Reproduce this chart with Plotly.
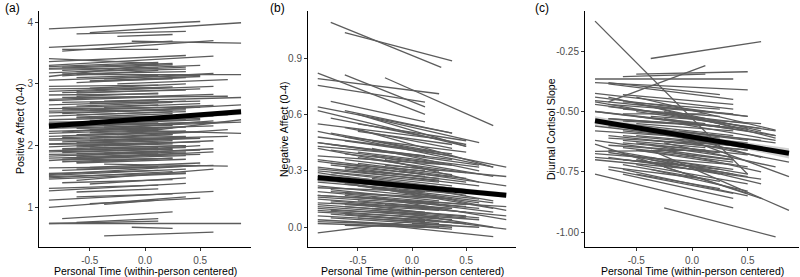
import plotly.graph_objects as go

# ---------------- Panel (a): Positive Affect ----------------
a_x0 = [-0.87,-0.50,-0.62,-0.25,-0.87,-0.75,-0.12,-0.75,-0.87,-0.87,-0.87,-0.87,-0.87,-0.75,-0.87,-0.62,-0.75,-0.87,-0.37,-0.50,
        -0.62,-0.25,-0.87,-0.50,-0.87,-0.62,-0.87,-0.75,-0.87,-0.37,-0.75,-0.87,-0.62,-0.87,-0.50,-0.87,-0.25,-0.75,-0.87,-0.62,
        -0.87,-0.50,-0.87,-0.37,-0.87,-0.12,-0.75,-0.87,-0.62,-0.87,-0.50,-0.87,-0.75,-0.87,-0.62,-0.87,-0.50,-0.87,-0.75,-0.87,
        -0.62,-0.87,-0.75,-0.87,-0.62,-0.37,-0.50,-0.75,-0.87,-0.87,-0.87,-0.87,-0.87,-0.62,-0.75,-0.50,-0.87,-0.87,-0.62,-0.87,
        -0.62,-0.50,-0.87,-0.37,-0.75,-0.87,-0.87,-0.62,-0.12,-0.37,-0.75,-0.62,-0.87,-0.75,-0.50,-0.62,-0.75,-0.50,-0.62,-0.75,
        -0.37,-0.62,-0.75,-0.50,-0.62,-0.75,-0.62,-0.25,-0.37,-0.62,
        -0.87,-0.75,-0.62,-0.87,-0.50,-0.75,-0.87,-0.62,-0.50,-0.87,-0.75,-0.62,-0.87,-0.50,-0.75,-0.87,-0.62,-0.87,-0.50,-0.75,
        -0.87,-0.62,-0.87,-0.50,-0.75,-0.62,-0.87,-0.75,-0.62,-0.87,-0.50,-0.37,-0.25,-0.37,-0.12,-0.25,-0.37,-0.87,-0.62,-0.87]
a_x1 = [0.50,0.87,0.37,0.25,0.25,0.62,0.87,0.12,0.12,0.37,0.62,0.12,0.25,0.50,0.37,0.87,0.12,0.12,0.62,0.50,
        0.37,0.75,0.12,0.37,0.25,0.50,0.12,0.75,0.62,0.87,0.12,0.37,0.25,0.50,0.62,0.12,0.87,0.37,0.25,0.75,
        0.12,0.50,0.37,0.75,0.25,0.87,0.62,0.12,0.37,0.50,0.25,0.12,0.37,0.25,0.50,0.12,0.37,0.37,0.25,0.12,
        0.62,0.50,0.37,0.12,0.25,0.75,0.50,0.62,0.12,0.37,0.25,0.50,0.37,0.62,0.25,0.37,0.12,0.37,0.12,0.62,
        0.25,0.50,0.37,0.12,0.25,0.12,0.87,0.12,0.25,0.62,0.12,0.37,0.12,0.25,0.62,0.12,0.37,0.37,0.25,0.12,
        0.50,0.37,0.25,0.12,0.62,0.25,0.37,0.87,0.75,0.50,
        0.12,0.37,0.12,0.25,0.50,0.12,0.37,0.25,0.37,0.12,0.50,0.37,0.25,0.12,0.25,0.37,0.50,0.12,0.25,0.37,
        0.25,0.12,0.37,0.62,0.12,0.37,0.12,0.37,0.12,0.50,0.25,0.50,0.62,0.87,0.75,0.50,0.62,0.12,0.25,0.37]
a_y0 = [3.89,3.83,3.81,3.77,3.59,3.53,3.69,3.56,3.41,3.36,3.30,3.28,3.25,3.22,3.18,3.15,3.13,3.12,3.08,3.05,
        3.02,3.00,2.96,2.93,2.88,2.85,2.82,2.78,2.75,2.72,2.70,2.66,2.64,2.60,2.58,2.56,2.55,2.52,2.48,2.45,
        2.42,2.40,2.36,2.34,2.28,2.25,2.22,2.20,2.18,2.15,2.12,2.09,2.06,2.03,2.01,1.98,1.96,1.92,1.89,1.86,
        1.84,1.80,1.78,1.76,1.73,1.70,1.65,1.60,1.55,1.52,1.48,1.53,1.46,1.44,1.40,1.38,1.31,1.27,1.25,1.12,
        1.17,1.06,1.00,1.05,0.82,0.74,0.74,0.76,0.68,0.54,2.62,2.50,2.38,2.32,2.26,2.24,2.16,2.08,1.98,1.93,
        1.88,1.82,1.74,2.70,2.88,3.27,3.20,2.18,2.10,2.34,
        2.92,2.86,2.80,2.73,2.68,2.58,2.53,2.46,2.44,2.34,2.30,2.28,2.23,2.21,2.13,2.11,2.05,2.02,2.00,1.95,
        1.90,1.87,1.83,1.80,1.77,1.72,3.24,3.16,3.10,3.06,3.04,2.62,2.40,2.30,2.16,1.92,2.00,1.64,1.62,1.50]
a_y1 = [4.01,3.99,3.85,3.80,3.69,3.70,3.66,3.56,3.33,3.46,3.45,3.35,3.31,3.30,3.27,3.15,3.22,3.32,3.17,3.12,
        3.10,3.07,2.98,3.00,2.95,2.92,2.84,2.80,2.83,2.78,2.73,2.72,2.70,2.62,2.65,2.58,2.66,2.60,2.55,2.50,
        2.46,2.44,2.42,2.38,2.33,2.20,2.40,2.26,2.24,2.22,2.18,2.10,2.14,2.08,2.06,2.05,2.00,1.97,1.95,1.88,
        1.95,1.86,1.84,1.86,1.80,1.67,1.72,1.68,1.60,1.62,1.58,1.68,1.55,1.62,1.45,1.48,1.36,1.39,1.30,1.26,
        1.22,1.15,1.17,1.12,0.93,0.78,0.74,0.82,0.66,0.60,2.66,2.55,2.40,2.36,2.32,2.27,2.22,2.12,2.03,1.97,
        1.93,1.88,1.80,2.74,2.96,3.33,3.24,2.42,2.15,2.42,
        2.94,2.90,2.85,2.80,2.72,2.62,2.58,2.52,2.48,2.37,2.38,2.30,2.29,2.24,2.18,2.15,2.12,2.04,2.05,2.00,
        1.94,1.91,1.90,1.90,1.79,1.78,3.26,3.20,3.14,3.14,3.08,2.68,2.48,2.38,2.26,2.00,2.08,1.66,1.66,1.56]
a_fix_x = [-0.87, 0.87]
a_fix_y = [2.32, 2.55]
a_band_x = [-0.87, -0.4, 0.0, 0.4, 0.87]
a_band_lo = [2.28, 2.35, 2.39, 2.44, 2.50]
a_band_hi = [2.36, 2.40, 2.43, 2.49, 2.60]

# ---------------- Panel (b): Negative Affect ----------------
b_x0 = [-0.75,-0.62,-0.87,-0.87,-0.62,-0.87,-0.25,-0.87,-0.75,-0.87,-0.87,-0.62,-0.50,-0.37,
        -0.87,-0.62,-0.75,-0.87,-0.50,-0.87,-0.62,-0.37,-0.87,-0.75,-0.50,-0.87,-0.25,-0.62,-0.87,-0.75,-0.12,
        -0.87,-0.50,-0.87,-0.62,-0.87,-0.75,-0.37,-0.87,-0.62,-0.87,-0.50,-0.87,-0.75,-0.25,-0.87,-0.62,-0.87,-0.50,-0.87,-0.75,-0.37,
        -0.87,-0.87,-0.62,-0.75,-0.87,-0.50,-0.87,-0.87,-0.25,-0.12,0.00,-0.62,
        -0.87,-0.75,-0.87,-0.62,-0.75,-0.50,-0.87,-0.37,-0.50,
        -0.87,-0.75,-0.62,-0.50,-0.87,-0.75,-0.62,-0.87,-0.50,-0.75,-0.87,-0.62,-0.50,-0.87,-0.75,-0.62,-0.87,-0.50,-0.75,-0.87,
        -0.62,-0.37,-0.87,-0.75,-0.50,-0.87,-0.62,-0.37,-0.25,-0.12,-0.25,-0.37,-0.12,-0.37,-0.25,-0.62,-0.75,-0.87,-0.50,-0.87]
b_x1 = [0.27,0.37,0.12,0.25,0.12,0.12,0.75,0.37,0.12,0.50,0.75,0.37,0.50,0.62,
        0.12,0.50,0.37,0.25,0.62,0.37,0.25,0.75,0.12,0.50,0.37,0.62,0.87,0.12,0.25,0.37,0.87,
        0.12,0.50,0.37,0.62,0.12,0.25,0.75,0.50,0.37,0.25,0.62,0.12,0.50,0.87,0.37,0.25,0.12,0.37,0.62,0.12,0.62,
        0.25,0.12,0.50,0.37,0.37,0.25,0.12,0.12,0.75,0.87,0.62,0.12,
        0.50,0.75,0.87,0.37,0.25,0.50,0.37,0.87,0.75,
        0.12,0.25,0.37,0.50,0.37,0.12,0.50,0.25,0.25,0.37,0.12,0.25,0.62,0.37,0.12,0.50,0.25,0.37,0.25,0.50,
        0.12,0.50,0.37,0.50,0.12,0.25,0.37,0.62,0.75,0.87,0.87,0.75,0.75,0.62,0.62,0.37,0.50,0.25,0.37,0.62]
b_y0 = [1.09,1.035,0.82,0.79,0.81,0.755,0.795,0.64,0.67,0.62,0.51,0.62,0.60,0.58,
        0.45,0.48,0.44,0.42,0.40,0.38,0.36,0.38,0.35,0.33,0.34,0.32,0.33,0.31,0.30,0.29,0.30,
        0.27,0.26,0.24,0.23,0.21,0.20,0.21,0.19,0.18,0.17,0.16,0.15,0.14,0.15,0.13,0.12,0.11,0.12,0.10,0.09,0.10,
        0.08,0.06,0.07,0.05,0.04,0.05,0.03,-0.03,0.01,0.06,0.02,0.01,
        0.29,0.25,0.17,0.53,0.50,0.55,0.48,0.46,0.52,
        0.43,0.41,0.39,0.37,0.36,0.34,0.32,0.31,0.30,0.28,0.25,0.24,0.22,0.22,0.19,0.17,0.16,0.14,0.13,0.12,
        0.11,0.09,0.09,0.07,0.06,0.02,0.03,0.26,0.24,0.20,0.12,0.16,0.08,0.42,0.36,0.46,0.58,0.55,0.51,0.45]
b_y1 = [0.85,0.885,0.60,0.71,0.64,0.665,0.54,0.50,0.56,0.43,0.32,0.50,0.43,0.45,
        0.38,0.40,0.36,0.30,0.32,0.33,0.30,0.27,0.28,0.26,0.28,0.22,0.27,0.27,0.24,0.22,0.22,
        0.22,0.20,0.18,0.15,0.19,0.14,0.13,0.12,0.15,0.13,0.10,0.11,0.08,0.04,0.10,0.09,0.07,0.06,0.04,0.07,0.05,
        0.05,0.03,0.02,0.01,0.00,0.02,0.01,0.04,-0.05,-0.01,0.00,0.00,
        0.17,0.10,0.11,0.42,0.40,0.46,0.39,0.32,0.32,
        0.38,0.34,0.33,0.29,0.27,0.30,0.24,0.25,0.26,0.20,0.21,0.19,0.13,0.15,0.16,0.11,0.12,0.10,0.10,0.06,
        0.08,0.05,0.04,0.02,0.04,0.00,-0.01,0.19,0.14,0.09,0.06,0.08,0.00,0.30,0.24,0.38,0.44,0.47,0.44,0.33]
b_fix_x = [-0.87, 0.87]
b_fix_y = [0.265, 0.17]
b_band_x = [-0.87, -0.4, 0.0, 0.4, 0.87]
b_band_lo = [0.245, 0.228, 0.212, 0.192, 0.155]
b_band_hi = [0.285, 0.258, 0.232, 0.212, 0.185]

# ---------------- Panel (c): Diurnal Cortisol Slope ----------------
c_x0 = [-0.87,-0.37,-0.75,-0.50,-0.87,-0.62,-0.87,-0.75,-0.75,-0.87,-0.87,-0.87,-0.62,-0.87,-0.75,-0.50,-0.87,-0.62,-0.37,-0.25,
        -0.62,-0.87,-0.12,-0.75,-0.50,-0.75,-0.37,-0.62,-0.87,-0.50,-0.75,-0.25,-0.87,-0.62,-0.37,-0.50,-0.87,-0.87,-0.75,-0.62,
        -0.25,-0.50,-0.12,-0.75,-0.62,-0.87,-0.37,-0.50,-0.75,-0.62,-0.87,-0.37,-0.25,-0.62,-0.37,-0.50,-0.12,-0.87,-0.62,-0.75,
        -0.37,-0.50,-0.25,-0.62,-0.75,-0.50,
        -0.75,-0.62,-0.87,-0.50,-0.75,-0.62,-0.87,-0.50,-0.37,-0.75,-0.62,-0.87,-0.50,-0.37,-0.75,-0.62,-0.87,-0.50,-0.25,-0.12,
        -0.25,-0.62,-0.75,-0.37,-0.12]
c_x1 = [0.50,0.62,0.12,0.50,0.37,0.12,0.50,0.25,0.37,0.37,0.50,0.12,0.37,0.25,0.62,0.50,0.12,0.25,0.75,0.75,
        0.12,0.37,0.75,0.50,0.37,0.25,0.62,0.50,0.12,0.25,0.37,0.87,0.62,0.12,0.50,0.50,0.12,0.37,0.25,0.37,
        0.75,0.37,0.87,0.62,0.25,0.25,0.37,0.50,0.12,0.50,0.37,0.87,0.75,0.62,0.62,0.75,0.75,0.50,0.25,0.50,
        0.62,0.25,0.50,0.37,0.50,0.62,
        0.37,0.25,0.12,0.50,0.25,0.37,0.25,0.25,0.62,0.50,0.12,0.37,0.50,0.37,0.37,0.50,0.12,0.25,0.62,0.75,
        0.75,0.25,0.37,0.50,0.62]
c_y0 = [-0.125,-0.28,-0.46,-0.345,-0.365,-0.355,-0.38,-0.38,-0.385,-0.425,-0.44,-0.455,-0.43,-0.46,-0.44,-0.47,-0.47,-0.49,-0.48,-0.50,
        -0.51,-0.50,-0.52,-0.53,-0.55,-0.56,-0.57,-0.58,-0.58,-0.60,-0.61,-0.58,-0.635,-0.62,-0.62,-0.63,-0.665,-0.675,-0.64,-0.65,
        -0.63,-0.66,-0.62,-0.69,-0.70,-0.70,-0.70,-0.72,-0.73,-0.74,-0.76,-0.66,-0.90,-0.60,-0.52,-0.44,-0.58,-0.54,-0.54,-0.66,
        -0.69,-0.76,-0.73,-0.76,-0.48,-0.50,
        -0.47,-0.46,-0.50,-0.52,-0.53,-0.55,-0.56,-0.57,-0.59,-0.60,-0.63,-0.62,-0.66,-0.64,-0.67,-0.68,-0.69,-0.70,-0.66,-0.55,
        -0.53,-0.72,-0.74,-0.74,-0.60]
c_y1 = [-0.76,-0.21,-0.31,-0.335,-0.365,-0.345,-0.41,-0.43,-0.45,-0.49,-0.52,-0.50,-0.47,-0.55,-0.58,-0.52,-0.53,-0.52,-0.61,-0.60,
        -0.51,-0.57,-0.58,-0.57,-0.58,-0.60,-0.62,-0.63,-0.61,-0.63,-0.64,-0.77,-0.86,-0.65,-0.66,-0.68,-0.66,-0.72,-0.67,-0.70,
        -0.73,-0.71,-0.71,-0.78,-0.74,-0.75,-0.76,-0.80,-0.78,-0.85,-0.90,-0.91,-1.02,-0.65,-0.55,-0.577,-0.63,-0.62,-0.56,-0.76,
        -0.80,-0.82,-0.84,-0.86,-0.55,-0.57,
        -0.51,-0.49,-0.55,-0.58,-0.56,-0.60,-0.62,-0.61,-0.66,-0.66,-0.66,-0.70,-0.73,-0.69,-0.74,-0.77,-0.73,-0.76,-0.75,-0.62,
        -0.60,-0.79,-0.84,-0.83,-0.69]
c_fix_x = [-0.87, 0.87]
c_fix_y = [-0.538, -0.673]
c_band_x = [-0.87, -0.4, 0.0, 0.4, 0.87]
c_band_lo = [-0.555, -0.585, -0.612, -0.648, -0.695]
c_band_hi = [-0.520, -0.560, -0.592, -0.622, -0.652]

titles = ["(a)", "(b)", "(c)"]
y_titles = ["Positive Affect (0-4)", "Negative Affect (0-4)", "Diurnal Cortisol Slope"]
x_title = "Personal Time (within-person centered)"
x_ticks = [-0.5, 0.0, 0.5]
a_yticks = [1, 2, 3, 4]
b_yticks = [0.0, 0.3, 0.6, 0.9]
c_yticks = [-1.00, -0.75, -0.50, -0.25]

fig = go.Figure()

def seg(x0, x1, y0, y1):
    xs, ys = [], []
    for a, b, c, d in zip(x0, x1, y0, y1):
        xs += [a, b, None]
        ys += [c, d, None]
    return xs, ys

panels = [
    (a_x0, a_x1, a_y0, a_y1, a_fix_x, a_fix_y, a_band_x, a_band_lo, a_band_hi),
    (b_x0, b_x1, b_y0, b_y1, b_fix_x, b_fix_y, b_band_x, b_band_lo, b_band_hi),
    (c_x0, c_x1, c_y0, c_y1, c_fix_x, c_fix_y, c_band_x, c_band_lo, c_band_hi),
]
for i, (x0, x1, y0, y1, fx, fy, bx, blo, bhi) in enumerate(panels):
    xa = "x" if i == 0 else f"x{i+1}"
    ya = "y" if i == 0 else f"y{i+1}"
    xs, ys = seg(x0, x1, y0, y1)
    fig.add_trace(go.Scatter(x=xs, y=ys, mode="lines", line=dict(color="#5c5c5c", width=1.3),
                             xaxis=xa, yaxis=ya, showlegend=False, hoverinfo="skip"))
    fig.add_trace(go.Scatter(x=bx + bx[::-1], y=bhi + blo[::-1], mode="lines", fill="toself",
                             fillcolor="rgba(153,153,153,0.45)", line=dict(width=0),
                             xaxis=xa, yaxis=ya, showlegend=False, hoverinfo="skip"))
    fig.add_trace(go.Scatter(x=fx, y=fy, mode="lines", line=dict(color="black", width=5),
                             xaxis=xa, yaxis=ya, showlegend=False, hoverinfo="skip"))

W, H = 800, 277
xdoms = [(39/W, 251/W), (308/W, 516/W), (585/W, 799/W)]
ydom = (1 - 247/H, 1 - 11/H)
yranges = [(0.36, 4.18), (-0.105, 1.15), (-1.062, -0.083)]
yticks = [a_yticks, b_yticks, c_yticks]
ytext = [[str(v) for v in a_yticks], ["%.1f" % v for v in b_yticks], ["%.2f" % v for v in c_yticks]]

axis_common = dict(showline=True, linecolor="black", linewidth=1, ticks="outside", ticklen=3,
                   tickcolor="#333333", showgrid=False, zeroline=False,
                   tickfont=dict(family="Liberation Sans, Arial", size=10, color="#4d4d4d"))
for i in range(3):
    sfx = "" if i == 0 else str(i + 1)
    fig.layout["xaxis" + sfx] = dict(domain=xdoms[i], range=[-0.96, 0.96], anchor="y" + sfx,
                                     tickvals=x_ticks, ticktext=["-0.5", "0.0", "0.5"],
                                     ticklabelstandoff=1, **axis_common)
    fig.layout["yaxis" + sfx] = dict(domain=ydom, range=list(yranges[i]), anchor="x" + sfx,
                                     tickvals=yticks[i], ticktext=ytext[i], **axis_common)

title_x = [3, 268, 533]
ytitle_x = [20, 284, 551]
ann = []
for i in range(3):
    ann.append(dict(text=titles[i], x=title_x[i] / W, y=1 - 8 / H, xref="paper", yref="paper",
                    xanchor="left", yanchor="middle", showarrow=False,
                    font=dict(family="Liberation Sans, Arial", size=12, color="black")))
    ann.append(dict(text=y_titles[i], x=ytitle_x[i] / W, y=(ydom[0] + ydom[1]) / 2, xref="paper", yref="paper",
                    xanchor="center", yanchor="middle", textangle=-90, showarrow=False,
                    font=dict(family="Liberation Sans, Arial", size=10.5, color="black")))
    ann.append(dict(text=x_title, x=(xdoms[i][0] + xdoms[i][1]) / 2, y=1 - 271 / H, xref="paper", yref="paper",
                    xanchor="center", yanchor="middle", showarrow=False,
                    font=dict(family="Liberation Sans, Arial", size=10.5, color="black")))
fig.update_layout(width=W, height=H, margin=dict(l=0, r=0, t=0, b=0),
                  paper_bgcolor="white", plot_bgcolor="white", annotations=ann)
fig.write_html("out.html")
